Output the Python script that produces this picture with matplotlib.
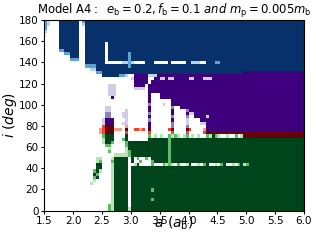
import numpy as np
import matplotlib
matplotlib.use("Agg")
import matplotlib.pyplot as plt

# stability map, one cell = 0.05 a_b x 3 deg
a_lo, a_hi = 1.5, 6.0
i_lo, i_hi = 0.0, 180.0
n_cols = 90

# cell codes -> (colormap, shade)
codes = {
    'B': ('Blues', 1.0), 'b': ('Blues', 0.55), 'c': ('Blues', 0.3),
    'P': ('Purples', 1.0), 'p': ('Purples', 0.6), 'q': ('Purples', 0.3),
    'R': ('Reds', 1.0), 'r': ('Reds', 0.6), 's': ('Reds', 0.35),
    'G': ('Greens', 1.0), 'g': ('Greens', 0.55), 'h': ('Greens', 0.3),
}

# rows from i = 180 down to i = 0, run-length coded ("B7" = seven 'B' cells)
rows = [
    "b c .3 B7 . b B76",
    "b c .3 B7 . c B76",
    "b .4 B7 .2 B76",
    "c .4 B7 .2 B76",
    ".5 B7 .2 B76",
    ".5 B7 .2 B76",
    ".5 B7 .2 B76",
    ".5 B7 .2 B7 . B68",
    ".5 B7 .2 B7 . B68",
    ".5 b2 B5 .2 B7 . B68",
    ".7 b2 B3 .2 B7 . B7 b B60",
    ".9 B3 .2 B7 . B7 b B60",
    ".9 b3 .2 B7 . B7 b B60",
    ".14 B7 .6 c2 b c .4 B3 .5 B .5 B2 c3 .2 B3 b2 B29",
    ".14 b4 B11 b B60",
    ".16 c2 B72",
    ".18 b2 B49 P21",
    ".20 B6 b2 c .2 P5 q c2 P51",
    ".30 q P5 .2 P2 q2 P q2 P5 q2 P3 q3 P32",
    ".31 P5 . P53",
    ".22 q3 .6 P4 . P54",
    ".22 q3 .6 q4 . P54",
    ".22 q3 .11 P54",
    ".22 q3 .11 P .3 P50",
    ".23 P .12 P .3 P50",
    ".36 P .7 P46",
    ".36 p .4 q .2 P46",
    ".21 q2 .13 P .7 p .2 P43",
    ".21 q2 .5 q .7 P .7 P .4 p P40",
    ".21 p2 .4 q q .7 p .7 P .4 P q2 P38",
    ".21 p2 .4 q2 .7 P .7 p .4 p .2 P4 q P33",
    ".20 q P3 .4 q .7 p .7 P .4 q .4 P36",
    ".20 q P3 .3 q2 .7 P .7 p .4 q .4 q2 P34",
    ".20 r R3 .4 s .7 P .7 p .4 p .6 P34",
    ".19 s r R3 s3 . R .2 r2 s r . R .6 r R .4 R r .4 s P34",
    ".19 s r R3 .4 r .7 r .7 r .4 r .5 r R34",
    ".20 g G3 .4 G .7 g . h . h .2 g h g h . h g . h . h .2 g h G g h .2 h .2 g . h R21",
    ".20 h G3 .3 g G .7 G7 g G46",
    ".20 h G2 g .4 g G14 g G46",
    ".21 g2 .5 g G14 g G46",
    ".22 h .5 h G14 g G46",
    ".22 g .5 h g G13 g G46",
    ".24 h4 h g G13 g G46",
    ".18 h2 .3 h G5 . G . g .2 g . G6 g G46",
    ".18 h g .3 g G5 . G .2 g .3 g G5 g G46",
    ".18 G2 .3 h G5 . . h G .4 g .3 g h g h . g .2 h G .2 h . g G .2 h . g G .2 h . g G h g G19",
    ".18 G2 .3 h G5 . G60",
    ".17 g G h .3 h G5 . G60",
    ".17 G g .4 h G5 . G60",
    ".17 g G .4 h G5 . G60",
    ".17 h .5 h G5 . G60",
    ".16 h .6 h G5 . G60",
    ".23 h G5 . G60",
    ".23 h G5 . G7 g G52",
    ".23 h G5 . G60",
    ".23 h G5 . G60",
    ".23 h G5 . G7 g G52",
    ".23 h G5 . G60",
    ".22 g h G5 . G60",
    ".22 g h G5 h G60",
]


def expand(row):
    out = ''
    for tok in row.split():
        out += tok[0] * (int(tok[1:]) if len(tok) > 1 else 1)
    return out


cells = [expand(r) for r in rows[::-1]]
for k, c in enumerate(cells):
    assert len(c) == n_cols, f"row {k} has {len(c)} cells"
grid = np.array([list(c) for c in cells])

a_edges = np.linspace(a_lo, a_hi, n_cols + 1)
i_edges = np.linspace(i_lo, i_hi, len(rows) + 1)

fig = plt.figure(figsize=(3.16, 2.41), dpi=100)
ax = fig.add_axes([0.140, 0.126, 0.822, 0.791])

for cmap in ['Blues', 'Purples', 'Reds', 'Greens']:
    vals = np.full(grid.shape, np.nan)
    for ch, (cm, shade) in codes.items():
        if cm == cmap:
            vals[grid == ch] = shade
    ax.pcolormesh(a_edges, i_edges, np.ma.masked_invalid(vals), cmap=cmap,
                  vmin=0, vmax=1)

ax.set_xlim(a_lo, a_hi)
ax.set_ylim(i_lo, i_hi)
ax.set_xticks(np.arange(1.5, 6.01, 0.5))
ax.set_yticks(np.arange(0, 181, 20))
ax.tick_params(labelsize=7.5, length=2.5, pad=1.5)
ax.set_xlabel(r"$a\ (a_\mathrm{b})$", fontsize=10, labelpad=-8)
ax.set_ylabel(r"$i\ (deg)$", fontsize=10, labelpad=0)
ax.set_title(r"Model A4$:$  $e_\mathrm{b}=0.2, f_\mathrm{b}=0.1$ $\mathit{and}$ $m_\mathrm{p}=0.005m_\mathrm{b}$",
             fontsize=8.4, pad=2)

fig.savefig("out.png", dpi=100)
